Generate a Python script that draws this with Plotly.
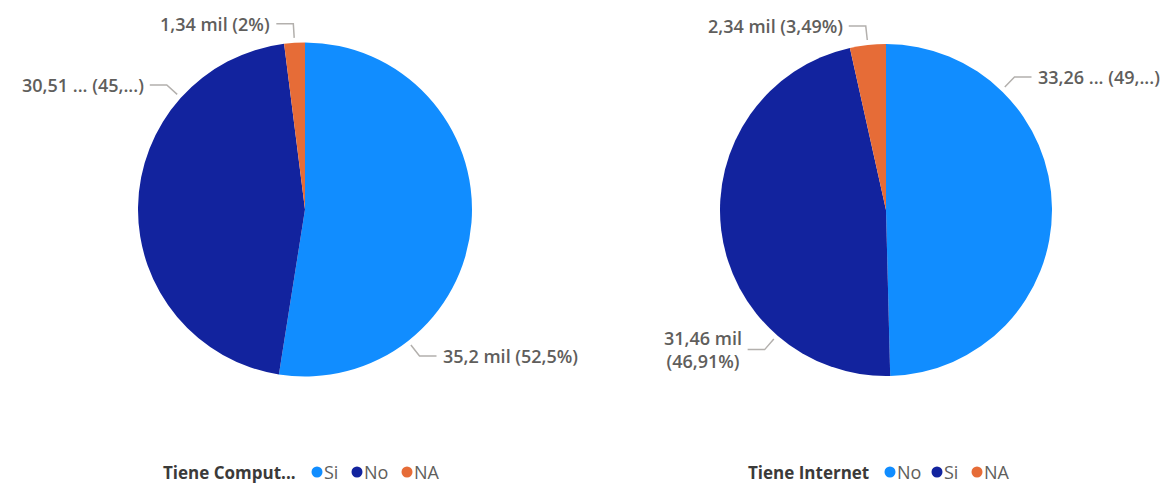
import math
import plotly.graph_objects as go

W, H = 1176, 484

# ---- data -------------------------------------------------------------
comp_categories = ["Si", "No", "NA"]
comp_values = [35.2, 30.51, 1.34]          # miles
comp_text = ["35,2 mil (52,5%)", "30,51 ... (45,...)", "1,34 mil (2%)"]

inet_categories = ["No", "Si", "NA"]
inet_values = [33.26, 31.46, 2.34]         # miles
inet_text = ["33,26 ... (49,...)", "31,46 mil<br>(46,91%)", "2,34 mil (3,49%)"]

legend_titles = ["Tiene Comput...", "Tiene Internet"]

# ---- style / layout ---------------------------------------------------
PALETTE = ["#118DFF", "#12239E", "#E66C37"]
LABEL_COLOR = "#605E5C"
TITLE_COLOR = "#3B3A39"
LEADER_COLOR = "#B3B0AD"
FONT = "Open Sans"

# pie geometry in pixels (center x, center y from top, radius)
PIES = [dict(cx=305, cy=209.5, r=167), dict(cx=886, cy=210, r=166)]
# angle (deg, clockwise from 12 o'clock) where each leader line leaves the pie;
# None -> middle of the slice
LEADER_ANGLES = [[142, 312, None], [44, 221, None]]
# legend marker centers (title is right-aligned before the first marker)
LEGENDS = [dict(markers=[317, 357, 407]),
           dict(markers=[890, 937, 977])]
LEGEND_Y = 472


def px(x):
    return x / W


def py(y):
    return 1 - y / H


charts = [
    (comp_categories, comp_values, comp_text),
    (inet_categories, inet_values, inet_text),
]

fig = go.Figure()
shapes = []
annotations = []

for i, (cats, vals, texts) in enumerate(charts):
    g = PIES[i]
    fig.add_trace(go.Pie(
        labels=cats,
        values=vals,
        sort=False,
        direction="clockwise",
        rotation=0,
        textinfo="none",
        hoverinfo="label+value+percent",
        showlegend=False,
        marker=dict(colors=PALETTE, line=dict(width=0)),
        domain=dict(x=[px(g["cx"] - g["r"]), px(g["cx"] + g["r"])],
                    y=[py(g["cy"] + g["r"]), py(g["cy"] - g["r"])]),
    ))

    # data labels with elbow leader lines
    total = sum(vals)
    start = 0.0
    for j, v in enumerate(vals):
        span = 360.0 * v / total
        ang = LEADER_ANGLES[i][j]
        if ang is None:
            ang = start + span / 2
        start += span
        t = math.radians(ang)
        s, c = math.sin(t), math.cos(t)
        r0, r1 = g["r"] + 5, g["r"] + 19
        x0, y0 = g["cx"] + r0 * s, g["cy"] - r0 * c
        x1, y1 = g["cx"] + r1 * s, g["cy"] - r1 * c
        side = 1 if s > 0 else -1
        x2 = x1 + side * 17
        shapes.append(dict(
            type="path", xref="paper", yref="paper",
            path=f"M {px(x0)},{py(y0)} L {px(x1)},{py(y1)} L {px(x2)},{py(y1)}",
            line=dict(color=LEADER_COLOR, width=1.5),
        ))
        annotations.append(dict(
            x=px(x2 + side * 4), y=py(y1), xref="paper", yref="paper",
            text=texts[j], showarrow=False,
            xanchor="left" if side > 0 else "right", yanchor="middle",
            align="center",
            font=dict(family=FONT, size=18, color=LABEL_COLOR, weight=600),
        ))

    # legend
    lg = LEGENDS[i]
    annotations.append(dict(
        x=px(lg["markers"][0] - 19), y=py(LEGEND_Y), xref="paper", yref="paper",
        text=legend_titles[i], showarrow=False, xanchor="right", yanchor="middle",
        font=dict(family=FONT, size=17, color=TITLE_COLOR, weight=700),
    ))
    for k, cat in enumerate(cats):
        mx = lg["markers"][k]
        shapes.append(dict(
            type="circle", xref="paper", yref="paper",
            x0=px(mx - 5.5), x1=px(mx + 5.5),
            y0=py(LEGEND_Y + 5.5), y1=py(LEGEND_Y - 5.5),
            fillcolor=PALETTE[k], line=dict(width=0),
        ))
        annotations.append(dict(
            x=px(mx + 5), y=py(LEGEND_Y), xref="paper", yref="paper",
            text=cat, showarrow=False, xanchor="left", yanchor="middle",
            font=dict(family=FONT, size=18, color=LABEL_COLOR),
        ))

fig.update_layout(
    width=W, height=H,
    margin=dict(l=0, r=0, t=0, b=0),
    paper_bgcolor="white",
    plot_bgcolor="white",
    shapes=shapes,
    annotations=annotations,
)

fig.write_html("out.html")
